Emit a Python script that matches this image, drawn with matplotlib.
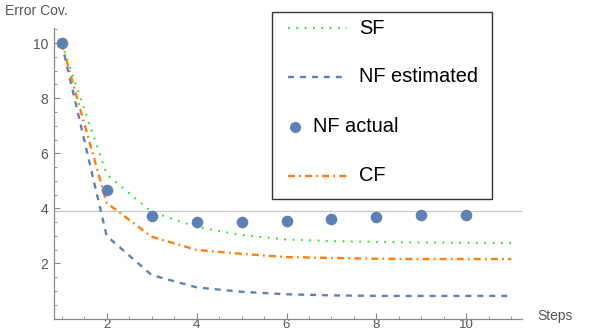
import matplotlib
matplotlib.use('Agg')
import matplotlib.pyplot as plt
from matplotlib.lines import Line2D
from matplotlib.patches import Rectangle
from matplotlib.ticker import MultipleLocator

plt.rcParams['font.family'] = ['Liberation Sans', 'DejaVu Sans']
plt.rcParams['lines.scale_dashes'] = False

steps = [1, 2, 3, 4, 5, 6, 7, 8, 9, 10, 11]
sf = [10, 5.24, 3.87, 3.33, 3.03, 2.87, 2.81, 2.78, 2.76, 2.75, 2.74]
nf_est = [10, 3.0, 1.58, 1.13, 0.97, 0.88, 0.84, 0.82, 0.82, 0.82, 0.82]
cf = [10, 4.2, 2.97, 2.49, 2.35, 2.23, 2.20, 2.17, 2.16, 2.16, 2.16]
actual_steps = [1, 2, 3, 4, 5, 6, 7, 8, 9, 10]
nf_actual = [10, 4.66, 3.72, 3.49, 3.51, 3.55, 3.61, 3.70, 3.75, 3.77]
ref_level = 3.9

GREEN = '#22ee22'
BLUE = '#5e81b5'
ORANGE = '#ff7f0e'
GRAY = '#555555'

SF_STYLE = dict(color=GREEN, lw=1.5, dashes=(1.3, 4.7))
EST_STYLE = dict(color=BLUE, lw=1.7, dashes=(4.3, 4.3))
CF_STYLE = dict(color=ORANGE, lw=1.7, dashes=(5, 3, 1.3, 3))

fig = plt.figure(figsize=(5.89, 3.32), dpi=100)
ax = fig.add_axes([54 / 589, 1 - 318.5 / 332, (521.7 - 54) / 589, (318.5 - 28) / 332])

ax.axhline(ref_level, color='#c8c8c8', lw=0.9, zorder=1)
ax.plot(steps, sf, zorder=3, **SF_STYLE)
ax.plot(steps, nf_est, zorder=3, **EST_STYLE)
ax.plot(steps, cf, zorder=3, **CF_STYLE)
ax.scatter(actual_steps, nf_actual, s=70, color=BLUE, zorder=4, linewidths=0)

ax.set_xlim(0.83, 11.23)
ax.set_ylim(0, 10.55)
for s in ('top', 'right'):
    ax.spines[s].set_visible(False)
for s in ('left', 'bottom'):
    ax.spines[s].set_color('#888888')
    ax.spines[s].set_linewidth(0.9)
ax.xaxis.set_major_locator(MultipleLocator(2))
ax.xaxis.set_minor_locator(MultipleLocator(0.5))
ax.yaxis.set_major_locator(MultipleLocator(2))
ax.yaxis.set_minor_locator(MultipleLocator(0.5))
ax.tick_params(which='both', direction='in', color='#888888', labelcolor=GRAY,
               labelsize=10)
ax.tick_params(which='major', length=4, width=0.8)
ax.tick_params(which='minor', length=2.5, width=0.6)
ax.tick_params(axis='x', pad=0, labelsize=9.5)
ax.tick_params(axis='y', pad=4)
ax.set_yticks([2, 4, 6, 8, 10])
ax.set_xticks([2, 4, 6, 8, 10])

fig.text(5 / 589, 1 - 11 / 332, 'Error Cov.', color=GRAY, fontsize=10, va='center')
fig.text(537 / 589, 1 - 316 / 332, 'Steps', color=GRAY, fontsize=10, va='center')


# legend box drawn in figure pixels
def fx(px):
    return px / 589


def fy(py):
    return 1 - py / 332


fig.add_artist(Rectangle((fx(272.3), fy(199.3)), fx(492.3) - fx(272.3), fy(11.7) - fy(199.3),
                         fill=False, edgecolor='#333333', lw=1.0, transform=fig.transFigure))
entries = [
    ('SF', 28.3, SF_STYLE),
    ('NF estimated', 76.7, EST_STYLE),
    ('CF', 175.7, CF_STYLE),
]
for label, py, style in entries:
    fig.add_artist(Line2D([fx(288), fx(347)], [fy(py), fy(py)], transform=fig.transFigure, **style))
    fig.text(fx(359), fy(py), label, fontsize=14.4, va='center', color='black')
fig.add_artist(Line2D([fx(295)], [fy(127)], marker='o', markersize=8, color=BLUE,
                      markeredgewidth=0, transform=fig.transFigure))
fig.text(fx(313), fy(127), 'NF actual', fontsize=14.4, va='center', color='black')

fig.savefig('out.png', dpi=100)
